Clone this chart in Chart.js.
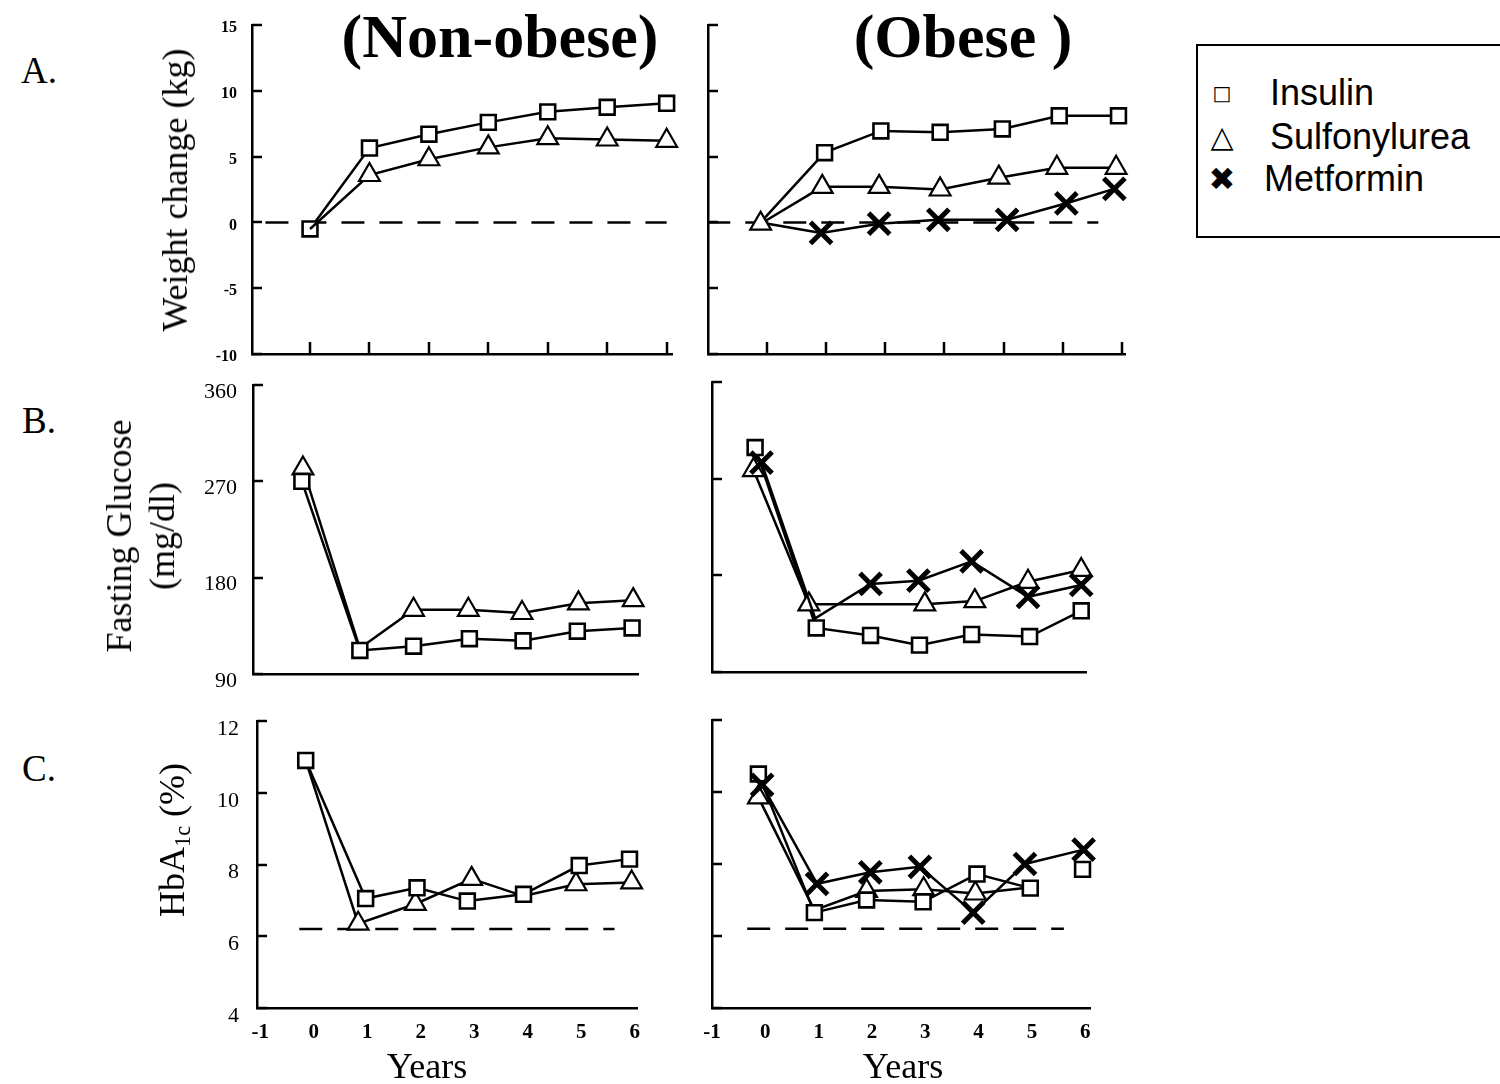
<!DOCTYPE html>
<html>
<head>
<meta charset="utf-8">
<title>Weight, fasting glucose and HbA1c by treatment</title>
<script src="https://cdn.jsdelivr.net/npm/chart.js@4.4.1/dist/chart.umd.min.js"></script>
<style>
  html, body { margin: 0; padding: 0; background: #fff; }
  body { width: 1500px; height: 1084px; position: relative; overflow: hidden;
         font-family: "Liberation Serif", "Times New Roman", serif; color: #000; }
  canvas { position: absolute; }
  .lbl { position: absolute; white-space: nowrap; line-height: 1; transform: translate(-50%, -50%); }
  .rot { transform: translate(-50%, -50%) rotate(-90deg); text-align: center; }
  .head { font-weight: bold; font-size: 62px; }
  .letter { font-size: 37px; }
  .ytitle { font-size: 36px; }
  .years { font-size: 36px; }
  sub { font-size: 0.62em; vertical-align: -0.28em; line-height: 0; }
  #legend { position: absolute; left: 1196px; top: 44px; width: 340px; height: 190px;
            border: 2px solid #000; font-family: "Liberation Sans", Arial, sans-serif; font-size: 36px; }
  #legend .row { position: absolute; left: 0; height: 40px; line-height: 40px; }
  #legend .sym { position: absolute; width: 40px; text-align: center; font-family: "DejaVu Sans", sans-serif; }
  #legend .txt { position: absolute; left: 72px; }
</style>
</head>
<body>

<canvas id="aNon"></canvas>
<canvas id="aOb"></canvas>
<canvas id="bNon"></canvas>
<canvas id="bOb"></canvas>
<canvas id="cNon"></canvas>
<canvas id="cOb"></canvas>

<div class="lbl head" style="left:500px; top:36px;">(Non-obese)</div>
<div class="lbl head" style="left:963px; top:36px;">(Obese )</div>

<div class="lbl letter" style="left:39px; top:70px;">A.</div>
<div class="lbl letter" style="left:39px; top:420px;">B.</div>
<div class="lbl letter" style="left:39px; top:768px;">C.</div>

<div class="lbl rot ytitle" style="left:175px; top:190px;">Weight change (kg)</div>
<div class="lbl rot ytitle" style="left:141px; top:536px; line-height:43px;">Fasting Glucose<br>(mg/dl)</div>
<div class="lbl rot ytitle" style="left:172px; top:840px;">HbA<sub>1c</sub> (%)</div>

<div class="lbl years" style="left:427px; top:1066px;">Years</div>
<div class="lbl years" style="left:903px; top:1066px;">Years</div>

<div id="legend">
  <div class="row" style="top:27px;"><span class="sym" style="left:4px; font-size:20px;">□</span><span class="txt">Insulin</span></div>
  <div class="row" style="top:71px;"><span class="sym" style="left:4px; font-size:30px;">△</span><span class="txt">Sulfonylurea</span></div>
  <div class="row" style="top:113px;"><span class="sym" style="left:4px; font-size:32px;">✖</span><span class="txt" style="left:66px;">Metformin</span></div>
</div>

<script>
// ---- data ----------------------------------------------------------------
// x values are the plotted year positions (points sit slightly off the
// whole years in the original plots)
const tickYears = [-1, 0, 1, 2, 3, 4, 5, 6];
const markYears = [0, 1, 2, 3, 4, 5, 6];

// A. weight change (kg)
const wtNonInsX  = [0, 1, 2, 3, 4, 5, 6];
const wtNonIns   = [-0.5, 5.65, 6.7, 7.6, 8.4, 8.75, 9.05];
const wtNonSulX  = [0, 1, 2, 3, 4, 5, 6];
const wtNonSul   = [-0.5, 3.6, 4.8, 5.7, 6.4, 6.3, 6.2];
const wtObInsX   = [-0.1, 0.98, 1.93, 2.93, 3.98, 4.94, 5.94];
const wtObIns    = [0, 5.3, 6.95, 6.85, 7.1, 8.1, 8.1];
const wtObSulX   = [-0.1, 0.94, 1.9, 2.93, 3.92, 4.9, 5.9];
const wtObSul    = [-0.1, 2.7, 2.7, 2.5, 3.4, 4.15, 4.15];
const wtObMetX   = [-0.1, 0.92, 1.9, 2.9, 4.06, 5.06, 5.87];
const wtObMet    = [0, -0.8, -0.1, 0.2, 0.2, 1.45, 2.55];

// B. fasting glucose (mg/dl)
const glNonInsX  = [-0.2, 0.88, 1.88, 2.92, 3.92, 4.93, 5.95];
const glNonIns   = [270, 112, 116, 123, 121, 130, 133];
const glNonSulX  = [-0.18, 0.88, 1.88, 2.9, 3.9, 4.95, 5.97];
const glNonSul   = [282, 114, 150, 150, 147, 156, 159];
const glObInsX   = [-0.19, 0.96, 1.98, 2.9, 3.88, 4.97, 5.94];
const glObIns    = [299, 131, 124, 115, 125, 123, 147];
const glObSulX   = [-0.22, 0.82, 3.0, 3.94, 4.94, 5.94];
const glObSul    = [278, 153, 153, 156, 174, 185];
const glObMetX   = [-0.07, 0.94, 1.98, 2.88, 3.88, 4.94, 5.94];
const glObMet    = [285, 140, 172, 175, 193, 160, 171];

// C. HbA1c (%)
const hbNonInsX  = [-0.15, 0.97, 1.93, 2.87, 3.92, 4.96, 5.9];
const hbNonIns   = [10.9, 7.05, 7.35, 6.98, 7.17, 7.97, 8.15];
const hbNonSulX  = [-0.15, 0.83, 1.9, 2.95, 3.92, 4.9, 5.94];
const hbNonSul   = [10.9, 6.35, 6.9, 7.6, 7.12, 7.45, 7.5];
const hbObInsX   = [-0.13, 0.92, 1.9, 2.96, 3.97, 4.97, 5.95];
const hbObIns    = [10.5, 6.65, 7.0, 6.95, 7.72, 7.33, 7.85];
const hbObSulX   = [-0.13, 0.92, 1.9, 2.97, 3.94, 4.95];
const hbObSul    = [9.85, 6.72, 7.25, 7.3, 7.18, 7.35];
const hbObMetX   = [-0.06, 0.97, 1.97, 2.9, 3.9, 4.87, 5.97];
const hbObMet    = [10.2, 7.45, 7.77, 7.92, 6.65, 8.0, 8.4];

// dashed reference levels: [value, from year, to year]
const wtRefNon = [0, -0.75, 6.0];
const wtRefOb  = [0, -1.0, 5.6];
const hbRefNon = [6.2, -0.27, 5.62];
const hbRefOb  = [6.2, -0.34, 5.6];

// ---- drawing -------------------------------------------------------------
Chart.defaults.font.family = '"Liberation Serif", "Times New Roman", serif';
Chart.defaults.color = '#000';

// short tick marks pointing into the plot area
Chart.register({
  id: 'innerTicks',
  afterDraw(chart, args, opts) {
    const { ctx, chartArea } = chart;
    ctx.save();
    ctx.strokeStyle = '#000';
    ctx.lineWidth = 2.5;
    if (opts.y) {
      const s = chart.scales.y;
      s.ticks.forEach(t => {
        const py = Math.round(s.getPixelForValue(t.value));
        ctx.beginPath();
        ctx.moveTo(chartArea.left, py);
        ctx.lineTo(chartArea.left + opts.y, py);
        ctx.stroke();
      });
    }
    if (opts.x) {
      const s = chart.scales.x;
      s.ticks.forEach(t => {
        const px = Math.round(s.getPixelForValue(t.value));
        ctx.beginPath();
        ctx.moveTo(px, chartArea.bottom);
        ctx.lineTo(px, chartArea.bottom - opts.x);
        ctx.stroke();
      });
    }
    ctx.restore();
  }
});

const SQUARE   = { pointStyle: 'rect',     radius: 10.5, width: 2.6 };
const TRIANGLE = { pointStyle: 'triangle', radius: 12,   width: 2.2 };
const CROSS    = { pointStyle: 'crossRot', radius: 15,   width: 5 };

function series(xs, ys, marker, extra = {}) {
  const hide = extra.hide || [];
  const ds = {
    data: xs.map((x, i) => ({ x, y: ys[i] })),
    borderColor: '#000',
    borderWidth: 2.5,
    pointBackgroundColor: '#fff',
    pointBorderColor: '#000',
    pointStyle: marker.pointStyle,
    pointRadius: ctx => hide.includes(ctx.dataIndex) ? 0 : marker.radius,
    pointBorderWidth: marker.width,
    tension: 0,
    clip: false,
    order: extra.order || 1
  };
  if (extra.breakAfter !== undefined) {
    ds.segment = {
      borderColor: c => c.p0DataIndex === extra.breakAfter ? 'rgba(0,0,0,0)' : undefined
    };
  }
  return ds;
}

function refLine(ref) {
  return {
    data: [{ x: ref[1], y: ref[0] }, { x: ref[2], y: ref[0] }],
    borderColor: '#000',
    borderWidth: 2.5,
    borderDash: [23, 15],
    pointRadius: 0,
    clip: false,
    order: 10
  };
}

// each panel gets a canvas placed so that its plot area lands on `area`
function panel(id, area, o) {
  const padT = 44, padR = 30;
  const w = area.right - area.left + o.yW + padR;
  const h = area.bottom - area.top + padT + o.xH;
  const cv = document.getElementById(id);
  cv.style.left = (area.left - o.yW) + 'px';
  cv.style.top = (area.top - padT) + 'px';
  cv.width = w;
  cv.height = h;

  new Chart(cv, {
    type: 'line',
    data: { datasets: o.datasets },
    options: {
      responsive: false,
      animation: false,
      events: [],
      layout: { padding: { top: padT, right: padR, left: 0, bottom: 0 } },
      plugins: {
        legend: { display: false },
        tooltip: { enabled: false },
        innerTicks: { y: 10, x: o.xMarks ? 12 : 0 }
      },
      scales: {
        x: {
          type: 'linear',
          min: o.xMin,
          max: o.xMax,
          afterFit: s => { s.height = o.xH; },
          afterBuildTicks: s => {
            s.ticks = (o.xLabels ? tickYears : o.xMarks ? markYears : []).map(v => ({ value: v }));
          },
          grid: { display: false, drawTicks: false },
          border: { display: true, color: '#000', width: 2.5 },
          ticks: {
            display: !!o.xLabels,
            padding: 12,
            font: { size: 21, weight: 'bold' },
            callback: v => String(v)
          }
        },
        y: {
          min: o.yMin,
          max: o.yMax,
          afterFit: s => { s.width = o.yW; },
          grid: { display: false, drawTicks: false },
          border: { display: true, color: '#000', width: 2.5 },
          ticks: {
            display: !!o.yFont,
            stepSize: o.yStep,
            padding: o.yPad || 12,
            labelOffset: o.yOffset || 0,
            font: o.yFont || { size: 16 },
            callback: v => String(v)
          }
        }
      }
    }
  });
}

// A. weight change
panel('aNon', { left: 252, right: 672, top: 25, bottom: 354 }, {
  yW: 70, xH: 44, xMin: -0.976, xMax: 6.09, xMarks: true,
  yMin: -10, yMax: 15, yStep: 5, yPad: 15, yOffset: 3,
  yFont: { size: 16, weight: 'bold' },
  datasets: [
    series(wtNonSulX, wtNonSul, TRIANGLE, { hide: [0] }),
    series(wtNonInsX, wtNonIns, SQUARE),
    refLine(wtRefNon)
  ]
});
panel('aOb', { left: 708, right: 1125, top: 25, bottom: 354 }, {
  yW: 40, xH: 44, xMin: -0.988, xMax: 6.05, xMarks: true,
  yMin: -10, yMax: 15, yStep: 5,
  datasets: [
    series(wtObSulX, wtObSul, TRIANGLE),
    series(wtObMetX, wtObMet, CROSS, { hide: [0] }),
    series(wtObInsX, wtObIns, SQUARE, { hide: [0] }),
    refLine(wtRefOb)
  ]
});

// B. fasting glucose
panel('bNon', { left: 253, right: 638, top: 385, bottom: 674 }, {
  yW: 80, xH: 44, xMin: -1.11, xMax: 6.06,
  yMin: 90, yMax: 360, yStep: 90, yPad: 16, yOffset: 7,
  yFont: { size: 22 },
  datasets: [
    series(glNonInsX, glNonIns, SQUARE),
    series(glNonSulX, glNonSul, TRIANGLE, { hide: [1] })
  ]
});
panel('bOb', { left: 712, right: 1086, top: 382, bottom: 672 }, {
  yW: 40, xH: 44, xMin: -1.0, xMax: 6.03,
  yMin: 90, yMax: 360, yStep: 90,
  datasets: [
    series(glObMetX, glObMet, CROSS, { hide: [1] }),
    series(glObSulX, glObSul, TRIANGLE),
    series(glObInsX, glObIns, SQUARE)
  ]
});

// C. HbA1c
panel('cNon', { left: 257, right: 637, top: 721, bottom: 1008 }, {
  yW: 80, xH: 50, xMin: -1.06, xMax: 6.04, xLabels: true,
  yMin: 4, yMax: 12, yStep: 2, yPad: 18, yOffset: 8,
  yFont: { size: 22 },
  datasets: [
    series(hbNonInsX, hbNonIns, SQUARE),
    series(hbNonSulX, hbNonSul, TRIANGLE, { hide: [0, 4] }),
    refLine(hbRefNon)
  ]
});
panel('cOb', { left: 712, right: 1090, top: 720, bottom: 1008 }, {
  yW: 40, xH: 50, xMin: -1.0, xMax: 6.09, xLabels: true,
  yMin: 4, yMax: 12, yStep: 2,
  datasets: [
    series(hbObMetX, hbObMet, CROSS),
    series(hbObInsX, hbObIns, SQUARE, { breakAfter: 5 }),
    series(hbObSulX, hbObSul, TRIANGLE, { hide: [1, 5] }),
    refLine(hbRefOb)
  ]
});
</script>
</body>
</html>
